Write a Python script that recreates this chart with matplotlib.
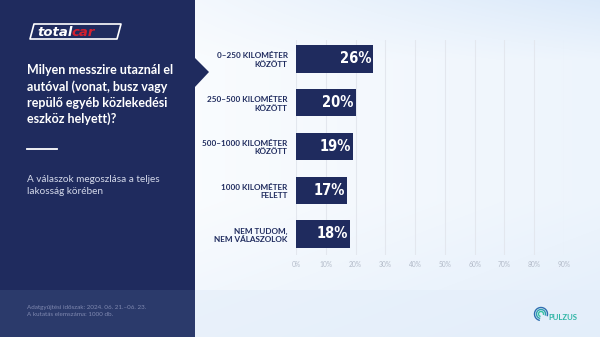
import numpy as np
import matplotlib.pyplot as plt
from matplotlib.patches import Polygon, Rectangle, Arc

# data
categories = ["0–250 KILOMÉTER\nKÖZÖTT", "250–500 KILOMÉTER\nKÖZÖTT",
              "500–1000 KILOMÉTER\nKÖZÖTT", "1000 KILOMÉTER\nFELETT",
              "NEM TUDOM,\nNEM VÁLASZOLOK"]
values = [26, 20, 19, 17, 18]
xticks = [0, 10, 20, 30, 40, 50, 60, 70, 80, 90]
xtick_labels = [f"{t}%" for t in xticks]

title = "Milyen messzire utaznál el\nautóval (vonat, busz vagy\nrepülő egyéb közlekedési\neszköz helyett)?"
subtitle = "A válaszok megoszlása a teljes\nlakosság körében"
footer = "Adatgyűjtési időszak: 2024. 06. 21.–06. 23.\nA kutatás elemszáma: 1000 db."

NAVY = "#1f2b5e"
NAVY2 = "#2b3a6b"
W, H = 600, 337

fig = plt.figure(figsize=(6, 3.37), dpi=100)

# background layer in pixel coordinates
bg = fig.add_axes([0, 0, 1, 1])
bg.set_xlim(0, W)
bg.set_ylim(H, 0)
bg.axis("off")

# pale blue wash on the right side
yy, xx = np.mgrid[0:H, 0:W]
tint = 0.10 * (xx / W) + 0.10 * np.clip((60 - yy) / 60, 0, 1) * (xx / W) \
    + 0.06 * np.clip((yy - 200) / 137, 0, 1)
tint = np.clip(tint, 0, 0.2)
base = np.array([1.0, 1.0, 1.0])
blue = np.array([0.80, 0.88, 0.97])
img = base[None, None, :] * (1 - tint[..., None] / 0.2 * 0.7) + blue[None, None, :] * (tint[..., None] / 0.2 * 0.7)
bg.imshow(img, extent=[0, W, H, 0], aspect="auto", zorder=0)
bg.add_patch(Rectangle((195, 290), W - 195, H - 290, color="#e4eefa", alpha=0.6, lw=0, zorder=1))

# left panel
bg.add_patch(Rectangle((0, 0), 195, 290, color=NAVY, lw=0, zorder=2))
bg.add_patch(Rectangle((0, 290), 195, H - 290, color=NAVY2, lw=0, zorder=2))
bg.add_patch(Polygon([(194, 57), (209, 72), (194, 88)], closed=True, color=NAVY, lw=0, zorder=2))

# totalcar logo
bg.add_patch(Polygon([(34, 24), (121, 24), (117, 39), (30, 39)], closed=True,
                     fill=False, ec="white", lw=1.2, joinstyle="round", zorder=3))
bg.text(37, 32, "total", color="white", fontsize=9.5, fontweight="bold",
        style="italic", family="DejaVu Sans", va="center", ha="left", zorder=4)
bg.text(71.5, 32, "car", color="#d3202f", fontsize=9.5, fontweight="bold",
        style="italic", family="DejaVu Sans", va="center", ha="left", zorder=4)

# texts on the left
bg.text(27, 64, title, color="white", fontsize=9, fontweight="bold",
        family="Lato", va="top", ha="left", linespacing=1.38, zorder=4)
bg.plot([27, 57], [149, 149], color="white", lw=1.3, zorder=4)
bg.text(27, 175, subtitle, color="#d4d9ea", fontsize=7.2,
        family="Lato", va="top", ha="left", linespacing=1.45, zorder=4)
bg.text(27, 305, footer, color="#8089b0", fontsize=4.5,
        family="Lato", va="top", ha="left", linespacing=1.55, zorder=4)

# pulzus logo
for r, c in [(6.5, "#2f6fb0"), (4.5, "#2e9fb0"), (2.5, "#35c2a0")]:
    bg.add_patch(Arc((541, 314), 2 * r, 2 * r, theta1=100, theta2=380,
                     color=c, lw=1.0, zorder=4))
bg.text(548, 318, "PULZUS", color="#2fb5a5", fontsize=5.6, fontweight="bold",
        family="Lato", va="center", ha="left", zorder=4)

# bar chart
x0, x90 = 296, 564
top, bottom = 40, 255
ax = fig.add_axes([x0 / W, 1 - bottom / H, (x90 - x0) / W, (bottom - top) / H])
ax.patch.set_alpha(0)
ypos = np.arange(len(categories))
ax.barh(ypos, values, height=0.62, color=NAVY, zorder=3)
ax.set_xlim(0, 90)
ax.set_ylim(4.48, -0.434)
ax.set_xticks(xticks)
ax.set_xticklabels(xtick_labels, fontsize=4.8, color="#b3bbc9", family="Lato")
ax.set_yticks(ypos)
ax.set_yticklabels(categories, fontsize=5.9, fontweight="bold", color=NAVY,
                   family="Lato", linespacing=1.25)
ax.tick_params(axis="both", length=0)
ax.tick_params(axis="x", pad=4)
ax.tick_params(axis="y", pad=6)
for s in ax.spines.values():
    s.set_visible(False)
ax.grid(axis="x", color="#e3e7ee", lw=0.8, zorder=1)
ax.set_axisbelow(True)

for y, v in zip(ypos, values):
    ax.text(v - 0.6, y, f"{v}%", color="white", fontsize=10.5, fontweight="bold",
            family="DejaVu Sans", fontstretch="condensed",
            va="center", ha="right", zorder=4)

fig.savefig("out.png", dpi=100)
